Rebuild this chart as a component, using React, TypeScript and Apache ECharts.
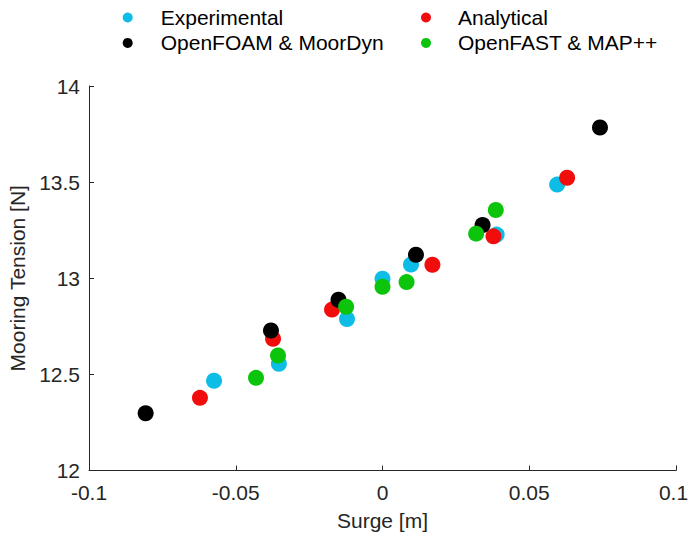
import React, { useEffect, useRef } from "react";
import * as echarts from "echarts";

const seriesNames = ["Experimental", "Analytical", "OpenFOAM & MoorDyn", "OpenFAST & MAP++"];
const seriesColors = ["#0dbde6", "#f20d0d", "#000000", "#0cc40c"];

const expX = [-0.0574, -0.0353, -0.0121, 0, 0.0097, 0.0389, 0.0595];
const expY = [12.467, 12.555, 12.788, 12.998, 13.071, 13.227, 13.487];

const anaX = [-0.0622, -0.0373, -0.0172, 0.017, 0.0378, 0.0629];
const anaY = [12.378, 12.685, 12.837, 13.07, 13.218, 13.523];

const foamX = [-0.0807, -0.038, -0.015, 0.0114, 0.0341, 0.0741];
const foamY = [12.298, 12.728, 12.888, 13.122, 13.277, 13.784];

const fastX = [-0.0431, -0.0356, -0.0124, 0, 0.0082, 0.0319, 0.0386];
const fastY = [12.482, 12.598, 12.852, 12.956, 12.98, 13.232, 13.355];

const xTicks = { min: -0.1, max: 0.1, interval: 0.05 };
const yTicks = { min: 12, max: 14, interval: 0.5 };

const FONT = "'Liberation Sans', Arial, Helvetica, sans-serif";
const AXIS_COLOR = "#262626";

function pairs(xs: number[], ys: number[]) {
  return xs.map((x, i) => [x, ys[i]]);
}

export default function App() {
  const ref = useRef<HTMLDivElement>(null);
  useEffect(() => {
    if (!ref.current) return;
    const chart = echarts.init(ref.current, undefined, { renderer: "svg" });
    const allData = [pairs(expX, expY), pairs(anaX, anaY), pairs(foamX, foamY), pairs(fastX, fastY)];
    const legendText = (pad: number) => ({
      fontFamily: FONT,
      fontSize: 21,
      color: "#000",
      lineHeight: 21,
      padding: [0, 0, 0, pad],
    });
    chart.setOption({
      animation: false,
      backgroundColor: "#ffffff",
      color: seriesColors,
      textStyle: { fontFamily: FONT },
      legend: [
        {
          data: [seriesNames[0], seriesNames[2]],
          orient: "vertical",
          left: 122.7,
          top: 7,
          padding: 0,
          icon: "circle",
          itemWidth: 10,
          itemHeight: 10,
          itemGap: 4.4,
          textStyle: legendText(23),
        },
        {
          data: [seriesNames[1], seriesNames[3]],
          orient: "vertical",
          left: 421,
          top: 7,
          padding: 0,
          icon: "circle",
          itemWidth: 10,
          itemHeight: 10,
          itemGap: 4.4,
          textStyle: legendText(22),
        },
      ],
      grid: { left: 89, right: 12, top: 86, bottom: 65.5, containLabel: false, outerBoundsMode: "none" },
      xAxis: {
        type: "value",
        min: xTicks.min,
        max: xTicks.max,
        interval: xTicks.interval,
        name: "Surge [m]",
        nameLocation: "middle",
        nameGap: 39,
        nameTextStyle: { fontFamily: FONT, fontSize: 21, color: AXIS_COLOR },
        axisLine: { show: true, onZero: false, lineStyle: { color: AXIS_COLOR, width: 1 } },
        axisTick: { show: true, inside: true, length: 5, lineStyle: { color: AXIS_COLOR } },
        axisLabel: {
          fontFamily: FONT,
          fontSize: 21,
          color: AXIS_COLOR,
          margin: 11,
          hideOverlap: false,
          formatter: (v: number) => {
            const s = String(+v.toFixed(2));
            return v >= xTicks.max - 1e-9 ? "{r|" + s + "}" : s;
          },
          rich: {
            r: { fontFamily: FONT, fontSize: 21, color: AXIS_COLOR, padding: [0, 5, 0, 0] },
          },
        },
        splitLine: { show: false },
      },
      yAxis: {
        type: "value",
        min: yTicks.min,
        max: yTicks.max,
        interval: yTicks.interval,
        name: "Mooring Tension [N]",
        nameLocation: "middle",
        nameGap: 57,
        nameTextStyle: { fontFamily: FONT, fontSize: 21, color: AXIS_COLOR },
        axisLine: { show: true, onZero: false, lineStyle: { color: AXIS_COLOR, width: 1 } },
        axisTick: { show: true, inside: true, length: 5, lineStyle: { color: AXIS_COLOR } },
        axisLabel: {
          fontFamily: FONT,
          fontSize: 21,
          color: AXIS_COLOR,
          margin: 9,
          formatter: (v: number) => String(+v.toFixed(1)),
        },
        splitLine: { show: false },
      },
      series: seriesNames.map((name, i) => ({
        name,
        type: "scatter",
        symbol: "circle",
        symbolSize: 16,
        itemStyle: { color: seriesColors[i], opacity: 1 },
        data: allData[i],
        z: 2 + i,
      })),
    });
    return () => chart.dispose();
  }, []);
  return <div ref={ref} style={{ width: 688, height: 536, position: "absolute", left: 0, top: 0 }} />;
}
